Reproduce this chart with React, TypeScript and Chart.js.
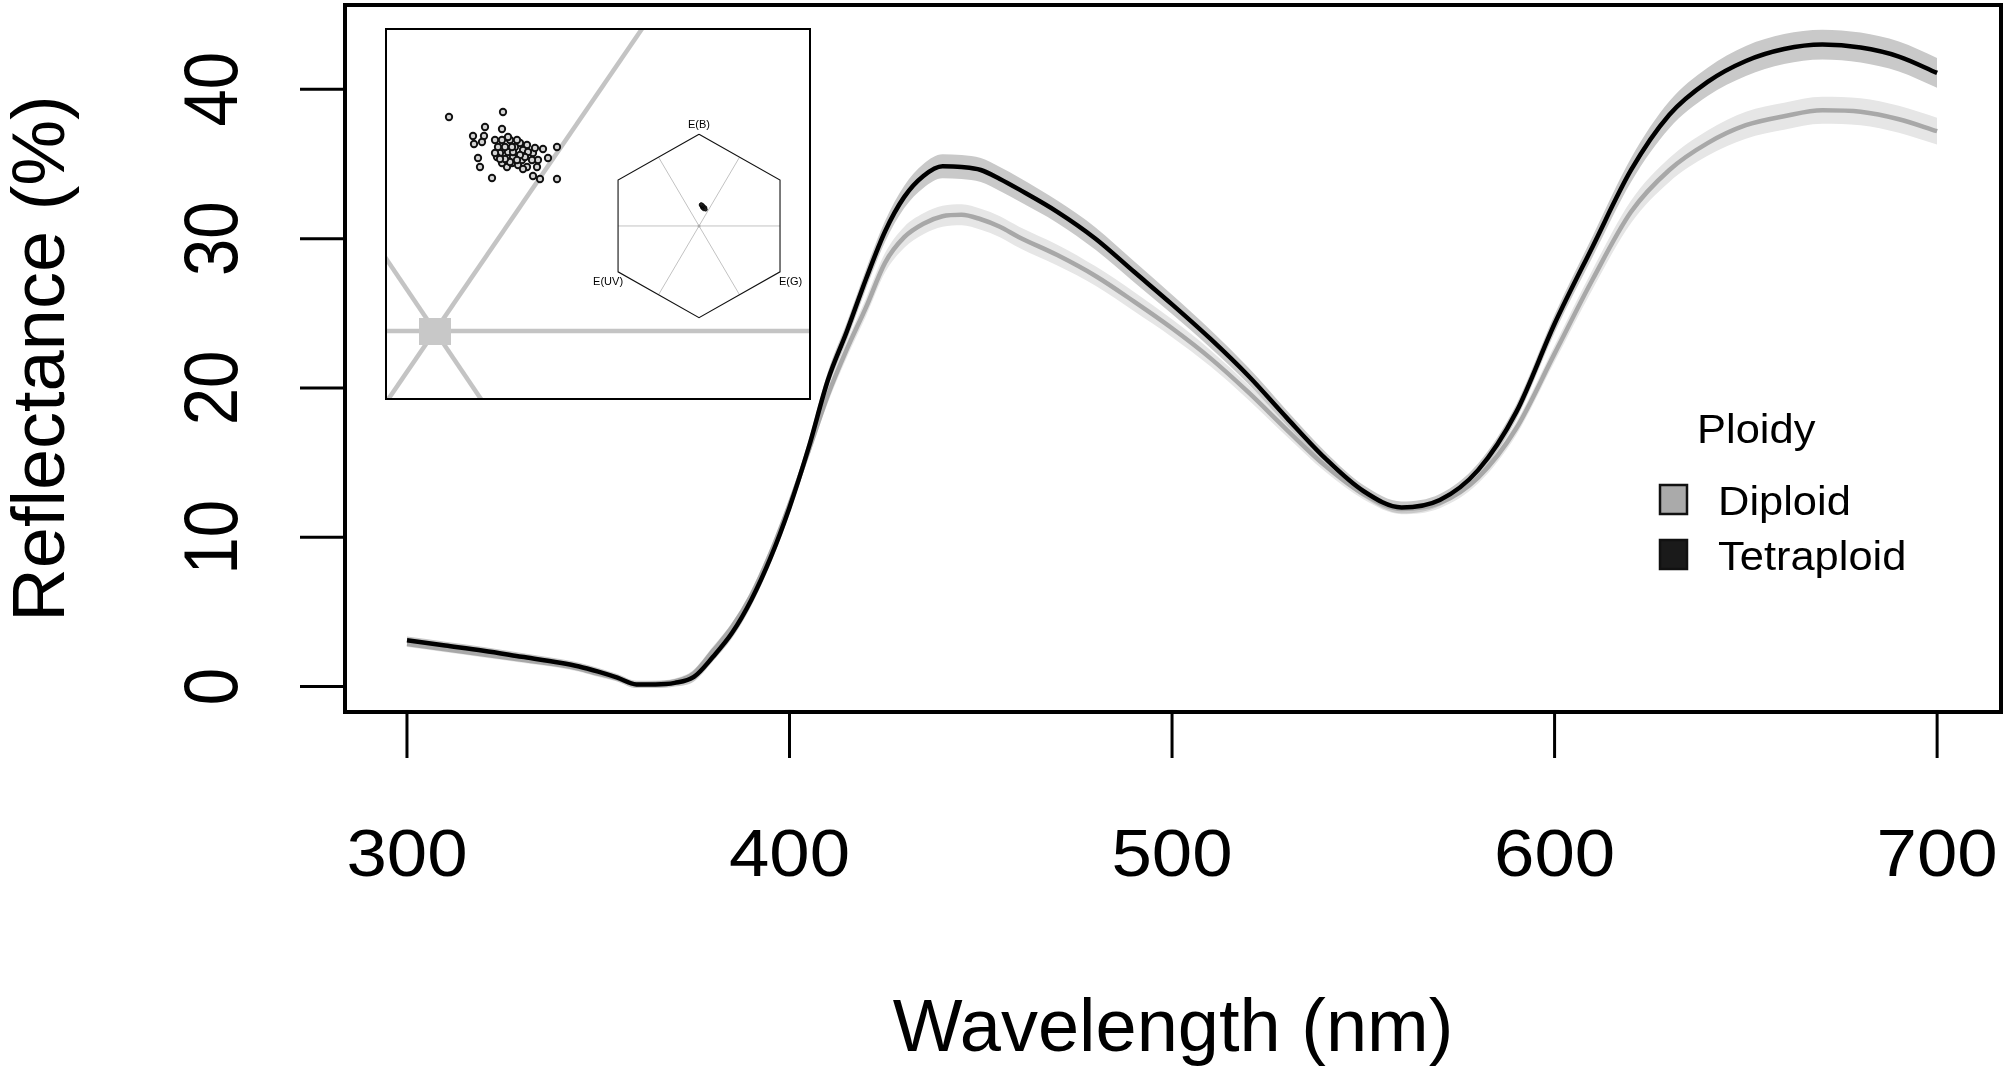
import React, { useEffect, useRef } from 'react';
import { Chart, registerables } from 'chart.js';

Chart.register(...registerables);

const FONT = '"Liberation Sans", Arial, Helvetica, sans-serif';

// ---------- main chart data ----------
const wavelengths = [300, 310, 320, 330, 340, 345, 350, 355, 360, 365, 370, 375, 380, 385, 390, 395, 400, 405, 410, 415, 420, 425, 430, 435, 440, 445, 450, 455, 460, 470, 480, 490, 500, 510, 520, 530, 540, 550, 560, 570, 580, 590, 600, 610, 620, 630, 640, 650, 660, 670, 680, 690, 700];
const tetraploid = [3.1, 2.75, 2.4, 2.0, 1.6, 1.35, 1.0, 0.6, 0.15, 0.15, 0.25, 0.65, 2.0, 3.6, 5.8, 8.6, 12.0, 16.0, 20.5, 23.8, 27.3, 30.5, 32.8, 34.2, 34.85, 34.8, 34.6, 34.0, 33.3, 31.8, 30.0, 27.8, 25.6, 23.3, 20.8, 18.0, 15.3, 13.1, 12.0, 12.5, 14.5, 18.4, 24.3, 29.5, 34.6, 38.3, 40.5, 41.9, 42.7, 43.0, 42.8, 42.2, 41.1];
const diploid = [2.85, 2.5, 2.15, 1.8, 1.45, 1.2, 0.85, 0.55, 0.15, 0.2, 0.35, 0.9, 2.4, 4.0, 6.1, 8.9, 12.2, 15.8, 19.5, 22.6, 25.4, 28.4, 30.1, 31.0, 31.5, 31.6, 31.3, 30.8, 30.1, 28.9, 27.5, 25.8, 24.0, 22.0, 19.7, 17.2, 14.8, 12.9, 11.9, 12.3, 14.0, 17.3, 22.3, 27.3, 31.8, 34.6, 36.4, 37.6, 38.2, 38.6, 38.5, 38.0, 37.2];
const tetraploidSE = [0.25, 0.25, 0.25, 0.25, 0.25, 0.25, 0.25, 0.25, 0.25, 0.25, 0.25, 0.3, 0.3, 0.35, 0.4, 0.4, 0.45, 0.5, 0.55, 0.6, 0.65, 0.7, 0.75, 0.8, 0.8, 0.8, 0.8, 0.8, 0.8, 0.75, 0.75, 0.7, 0.65, 0.6, 0.55, 0.5, 0.45, 0.4, 0.4, 0.4, 0.45, 0.5, 0.6, 0.7, 0.8, 0.9, 0.95, 1.0, 1.0, 1.0, 1.0, 1.0, 1.0];
const diploidSE = [0.2, 0.2, 0.2, 0.2, 0.2, 0.2, 0.2, 0.2, 0.2, 0.2, 0.2, 0.25, 0.3, 0.3, 0.35, 0.4, 0.4, 0.45, 0.5, 0.55, 0.6, 0.65, 0.7, 0.7, 0.7, 0.7, 0.7, 0.7, 0.7, 0.7, 0.65, 0.65, 0.6, 0.55, 0.5, 0.45, 0.4, 0.35, 0.35, 0.35, 0.4, 0.45, 0.55, 0.65, 0.75, 0.8, 0.85, 0.9, 0.9, 0.9, 0.9, 0.9, 0.9];

const xTicks = [300, 400, 500, 600, 700];
const yTicks = [0, 10, 20, 30, 40];
const xTitle = 'Wavelength (nm)';
const yTitle = 'Reflectance (%)';
const legendTitle = 'Ploidy';
const seriesNames = ['Diploid', 'Tetraploid'];
const legendFill = ['#aaaaaa', '#1a1a1a'];

// ---------- inset data ----------
const clusterX = [0.014, 0.068, 0.050, 0.038, 0.049, 0.067, 0.039, 0.047, 0.060, 0.043, 0.045, 0.057, 0.122, 0.122, 0.105, 0.098, 0.113, 0.108, 0.103, 0.075, 0.085, 0.092, 0.098, 0.072, 0.065, 0.078, 0.092, 0.102, 0.063, 0.073, 0.082, 0.088, 0.093, 0.062, 0.060, 0.067, 0.077, 0.083, 0.087, 0.073, 0.080, 0.070, 0.067, 0.078, 0.090, 0.097, 0.100, 0.085, 0.075, 0.082, 0.070, 0.077, 0.088, 0.065];
const clusterY = [0.214, 0.219, 0.204, 0.195, 0.195, 0.202, 0.187, 0.189, 0.191, 0.173, 0.164, 0.153, 0.184, 0.152, 0.152, 0.155, 0.173, 0.182, 0.171, 0.191, 0.188, 0.186, 0.178, 0.164, 0.178, 0.174, 0.164, 0.164, 0.184, 0.194, 0.191, 0.181, 0.179, 0.174, 0.178, 0.168, 0.168, 0.166, 0.171, 0.179, 0.184, 0.184, 0.191, 0.179, 0.174, 0.171, 0.183, 0.176, 0.169, 0.171, 0.172, 0.184, 0.162, 0.172];
const hexClusterX = [0.02, 0.03, 0.04, 0.05, 0.06, 0.035, 0.045, 0.055, 0.03, 0.05, 0.065, 0.04, 0.07, 0.025];
const hexClusterY = [0.23, 0.215, 0.21, 0.2, 0.19, 0.2, 0.195, 0.205, 0.22, 0.185, 0.2, 0.225, 0.18, 0.235];
const hexLabels = ['E(B)', 'E(UV)', 'E(G)'];
const zoomAxisSlopes = [0, 1.46, -1.48];
const hexVertexAngles = [90, 30, -30, -90, -150, 150, 90];

const toPts = (xs: number[], ys: number[]) => xs.map((v, i) => ({ x: v, y: ys[i] }));

function MainChart() {
  const ref = useRef<HTMLCanvasElement>(null);
  useEffect(() => {
    const canvas = ref.current!;
    const pts = (ys: number[]) => wavelengths.map((w, i) => ({ x: w, y: ys[i] }));
    const band = (ys: number[], se: number[], sign: number) =>
      wavelengths.map((w, i) => ({ x: w, y: ys[i] + sign * se[i] }));

    const framePlugin = {
      id: 'framePlugin',
      afterDraw(chart: any) {
        const { ctx, chartArea: a, scales } = chart;
        const x = scales.x;
        const y = scales.y;
        ctx.save();
        ctx.strokeStyle = '#000';
        ctx.fillStyle = '#000';
        ctx.lineWidth = 4;
        ctx.strokeRect(a.left, a.top, a.right - a.left, a.bottom - a.top);
        ctx.lineWidth = 3;
        ctx.textAlign = 'center';
        ctx.textBaseline = 'alphabetic';
        xTicks.forEach((v) => {
          const px = x.getPixelForValue(v);
          ctx.beginPath();
          ctx.moveTo(px, a.bottom);
          ctx.lineTo(px, a.bottom + 46);
          ctx.stroke();
          ctx.save();
          ctx.translate(px, a.bottom + 164);
          ctx.scale(1.1, 1);
          ctx.font = `66px ${FONT}`;
          ctx.fillText(String(v), 0, 0);
          ctx.restore();
        });
        yTicks.forEach((v) => {
          const py = y.getPixelForValue(v);
          ctx.beginPath();
          ctx.moveTo(a.left, py);
          ctx.lineTo(a.left - 45, py);
          ctx.stroke();
          ctx.save();
          ctx.translate(a.left - 108, py);
          ctx.rotate(-Math.PI / 2);
          ctx.scale(1, 1.12);
          ctx.font = `67px ${FONT}`;
          ctx.fillText(String(v), 0, 0);
          ctx.restore();
        });
        ctx.font = `74px ${FONT}`;
        ctx.fillText(xTitle, (a.left + a.right) / 2, a.bottom + 339);
        ctx.save();
        ctx.translate(a.left - 281, (a.top + a.bottom) / 2);
        ctx.rotate(-Math.PI / 2);
        ctx.fillText(yTitle, 0, 0);
        ctx.restore();
        const lx = a.right - 342;
        ctx.textAlign = 'left';
        ctx.save();
        ctx.translate(lx + 38, 443);
        ctx.scale(1.06, 1);
        ctx.font = `41px ${FONT}`;
        ctx.fillText(legendTitle, 0, 0);
        ctx.restore();
        seriesNames.forEach((name, i) => {
          const by = 484 + i * 55;
          ctx.fillStyle = legendFill[i];
          ctx.strokeStyle = '#111';
          ctx.lineWidth = 2.5;
          ctx.beginPath();
          ctx.rect(lx + 1, by + 1, 27, 29);
          ctx.fill();
          ctx.stroke();
          ctx.fillStyle = '#000';
          ctx.save();
          ctx.translate(lx + 59, by + 31);
          ctx.scale(1.06, 1);
          ctx.font = `41px ${FONT}`;
          ctx.fillText(name, 0, 0);
          ctx.restore();
        });
        ctx.restore();
      },
    };

    const chart = new Chart(canvas, {
      type: 'line',
      data: {
        datasets: [
          { label: 'Tetraploid', data: pts(tetraploid), borderColor: '#000000', borderWidth: 4.5, order: 0, fill: false },
          { label: 'Diploid', data: pts(diploid), borderColor: '#a8a8a8', borderWidth: 4.5, order: 1, fill: false },
          { label: 'Tetraploid upper', data: band(tetraploid, tetraploidSE, 1), borderWidth: 0, backgroundColor: '#c9c9c9', fill: '+1', order: 2 },
          { label: 'Tetraploid lower', data: band(tetraploid, tetraploidSE, -1), borderWidth: 0, fill: false, order: 2 },
          { label: 'Diploid upper', data: band(diploid, diploidSE, 1), borderWidth: 0, backgroundColor: '#e6e6e6', fill: '+1', order: 3 },
          { label: 'Diploid lower', data: band(diploid, diploidSE, -1), borderWidth: 0, fill: false, order: 3 },
        ] as any,
      },
      options: {
        animation: false,
        responsive: false,
        devicePixelRatio: 1,
        layout: { padding: { left: 345, right: 4, top: 5, bottom: 365 }, autoPadding: false } as any,
        elements: { point: { radius: 0 }, line: { cubicInterpolationMode: 'monotone' } },
        scales: {
          x: { type: 'linear', min: 283.8, max: 716.7, display: false },
          y: { type: 'linear', min: -1.7, max: 45.65, display: false },
        },
        plugins: { legend: { display: false }, tooltip: { enabled: false } },
      },
      plugins: [framePlugin],
    });
    return () => chart.destroy();
  }, []);
  return <canvas ref={ref} width={2005} height={1077} style={{ position: 'absolute', left: 0, top: 0 }} />;
}

function InsetChart() {
  const ref = useRef<HTMLCanvasElement>(null);
  useEffect(() => {
    const canvas = ref.current!;
    const sq = document.createElement('canvas');
    sq.width = 32;
    sq.height = 27;
    const sctx = sq.getContext('2d')!;
    sctx.fillStyle = '#c8c8c8';
    sctx.fillRect(0, 0, 32, 27);

    const axisLines = zoomAxisSlopes.map((s) => ({
      data: [{ x: -1, y: -s }, { x: 1, y: s }],
      showLine: true,
      borderColor: '#c4c4c4',
      borderWidth: 4.5,
      pointRadius: 0,
      xAxisID: 'x',
      yAxisID: 'y',
      order: 5,
    }));
    const hexVerts = hexVertexAngles.map((d) => ({ x: Math.cos((d * Math.PI) / 180), y: Math.sin((d * Math.PI) / 180) }));
    const mid = (a: any, b: any) => ({ x: (a.x + b.x) / 2, y: (a.y + b.y) / 2 });
    const m1 = mid(hexVerts[0], hexVerts[5]);
    const m2 = mid(hexVerts[0], hexVerts[1]);
    const hexInner = [
      [{ x: hexVerts[4].x, y: 0 }, { x: hexVerts[1].x, y: 0 }],
      [m1, { x: -m1.x, y: -m1.y }],
      [m2, { x: -m2.x, y: -m2.y }],
    ].map((d) => ({
      data: d,
      showLine: true,
      borderColor: '#c2c2c2',
      borderWidth: 1,
      pointRadius: 0,
      xAxisID: 'x2',
      yAxisID: 'y2',
      order: 4,
    }));

    const labelPlugin = {
      id: 'hexLabels',
      afterDraw(chart: any) {
        const { ctx, scales } = chart;
        const sx = scales.x2;
        const sy = scales.y2;
        ctx.save();
        ctx.fillStyle = '#000';
        ctx.font = `11px ${FONT}`;
        ctx.textBaseline = 'alphabetic';
        const top = hexVerts[0];
        const ll = hexVerts[4];
        const lr = hexVerts[2];
        ctx.textAlign = 'center';
        ctx.fillText(hexLabels[0], sx.getPixelForValue(top.x), sy.getPixelForValue(top.y) - 6);
        ctx.textAlign = 'right';
        ctx.fillText(hexLabels[1], sx.getPixelForValue(ll.x) + 5, sy.getPixelForValue(ll.y) + 13);
        ctx.textAlign = 'left';
        ctx.fillText(hexLabels[2], sx.getPixelForValue(lr.x) - 1, sy.getPixelForValue(lr.y) + 13);
        ctx.restore();
      },
    };

    const chart = new Chart(canvas, {
      type: 'scatter',
      data: {
        datasets: [
          { data: toPts(clusterX, clusterY), pointRadius: 3.2, pointBorderWidth: 1.9, pointBorderColor: '#111', pointBackgroundColor: '#d4d4d4', xAxisID: 'x', yAxisID: 'y', order: 0 },
          { data: toPts(hexClusterX, hexClusterY), pointRadius: 1.8, pointBorderWidth: 0.6, pointBorderColor: '#000', pointBackgroundColor: '#222', xAxisID: 'x2', yAxisID: 'y2', order: 1 },
          { data: [{ x: 0, y: 0 }], pointStyle: sq, pointRadius: 16, xAxisID: 'x', yAxisID: 'y', order: 2 },
          { data: hexVerts, showLine: true, borderColor: '#111', borderWidth: 1.1, pointRadius: 0, xAxisID: 'x2', yAxisID: 'y2', order: 3 },
          { data: [{ x: 0, y: 0 }], pointRadius: 1.5, pointBorderWidth: 0, pointBackgroundColor: '#aaa', xAxisID: 'x2', yAxisID: 'y2', order: 3 },
          ...hexInner,
          ...axisLines,
        ] as any,
      },
      options: {
        animation: false,
        responsive: false,
        devicePixelRatio: 1,
        layout: { padding: 0, autoPadding: false } as any,
        scales: {
          x: { type: 'linear', min: -0.048, max: 0.374, display: false },
          y: { type: 'linear', min: -0.067, max: 0.301, display: false },
          x2: { type: 'linear', axis: 'x', min: -3.337, max: 1.176, display: false },
          y2: { type: 'linear', axis: 'y', min: -1.876, max: 2.137, display: false },
        } as any,
        plugins: { legend: { display: false }, tooltip: { enabled: false } },
      },
      plugins: [labelPlugin],
    });
    return () => chart.destroy();
  }, []);
  return (
    <div
      style={{
        position: 'absolute',
        left: 385,
        top: 28,
        width: 426,
        height: 372,
        border: '2px solid #000',
        boxSizing: 'border-box',
        background: '#fff',
        overflow: 'hidden',
      }}
    >
      <canvas ref={ref} width={422} height={368} style={{ display: 'block' }} />
    </div>
  );
}

export default function App() {
  useEffect(() => {
    document.body.style.margin = '0';
    document.body.style.overflow = 'hidden';
    document.body.style.background = '#fff';
  }, []);
  return (
    <div style={{ position: 'absolute', left: 0, top: 0, width: 2005, height: 1077, background: '#fff', overflow: 'hidden' }}>
      <MainChart />
      <InsetChart />
    </div>
  );
}
